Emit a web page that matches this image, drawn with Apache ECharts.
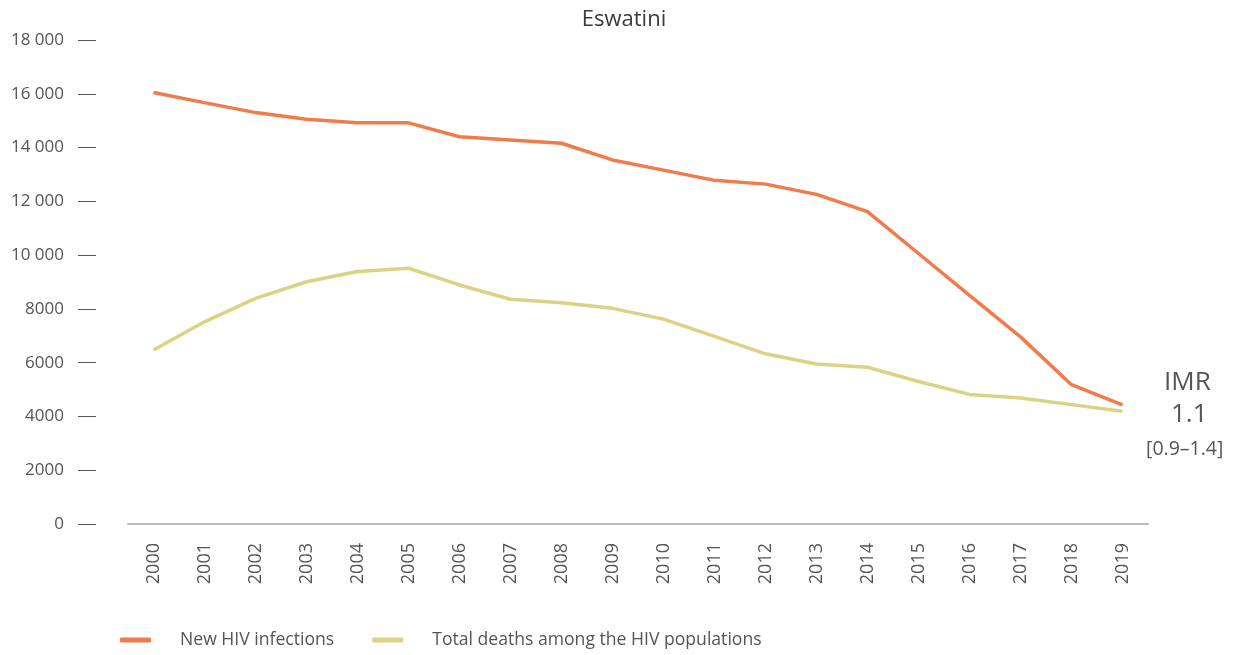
<!DOCTYPE html>
<html><head><meta charset="utf-8">
<script src="https://cdn.jsdelivr.net/npm/echarts@6/dist/echarts.min.js"></script>
<style>html,body{margin:0;padding:0;background:#fff}#c{width:1248px;height:655px}</style>
</head><body><div id="c"></div>
<script>
const years = ['2000','2001','2002','2003','2004','2005','2006','2007','2008','2009','2010','2011','2012','2013','2014','2015','2016','2017','2018','2019'];
const newInfections = [16050,15670,15300,15050,14920,14920,14400,14280,14160,13540,13160,12780,12640,12260,11620,10060,8500,6960,5180,4430];
const totalDeaths = [6470,7520,8390,9010,9390,9510,8890,8360,8230,8020,7620,6980,6330,5950,5830,5300,4820,4690,4440,4190];
const title = 'Eswatini';
const seriesNames = ['New HIV infections','Total deaths among the HIV populations'];
const imrLines = ['IMR','1.1','[0.9–1.4]'];

const chart = echarts.init(document.getElementById('c'));
const font = '"Open Sans", Lato, sans-serif';
chart.setOption({
  animation:false,
  title:{text:title,left:'center',top:4,textStyle:{fontFamily:font,fontSize:22,fontWeight:'normal',color:'#3a3a3a'}},
  grid:{left:128,right:100,top:40,bottom:131},
  legend:{bottom:1,left:115,itemWidth:31,itemHeight:5,itemGap:38,icon:'roundRect',
    textStyle:{fontFamily:font,fontSize:17.6,color:'#555',padding:[0,0,0,24]},
    data:seriesNames},
  xAxis:{type:'category',data:years,boundaryGap:true,
    axisLine:{lineStyle:{color:'#bdbdbd',width:2}},axisTick:{show:false},
    axisLabel:{rotate:90,margin:19,fontFamily:font,fontSize:18,color:'#555'}},
  yAxis:{type:'value',min:0,max:18000,interval:2000,offset:32,
    axisLine:{show:false},axisTick:{show:true,length:18,lineStyle:{color:'#555',width:1}},
    splitLine:{show:false},
    axisLabel:{margin:32,fontFamily:font,fontSize:17,color:'#555',
      formatter:v=> v>=10000 ? String(v).replace(/(\d)(?=(\d{3})$)/,'$1 ') : String(v)}},
  series:[
    {name:seriesNames[0],type:'line',data:newInfections,symbol:'none',lineStyle:{color:'#f07b4b',width:3.5},itemStyle:{color:'#f07b4b'}},
    {name:seriesNames[1],type:'line',data:totalDeaths,symbol:'none',lineStyle:{color:'#dbd383',width:3.5},itemStyle:{color:'#dbd383'}}
  ],
  graphic:[
    {type:'text',left:1164,top:370,style:{text:imrLines[0],font:'26px '+font,fill:'#555'}},
    {type:'text',left:1171,top:402,style:{text:imrLines[1],font:'26px '+font,fill:'#555'}},
    {type:'text',left:1146,top:439,style:{text:imrLines[2],font:'19.5px '+font,fill:'#555'}}
  ]
});
</script></body></html>
